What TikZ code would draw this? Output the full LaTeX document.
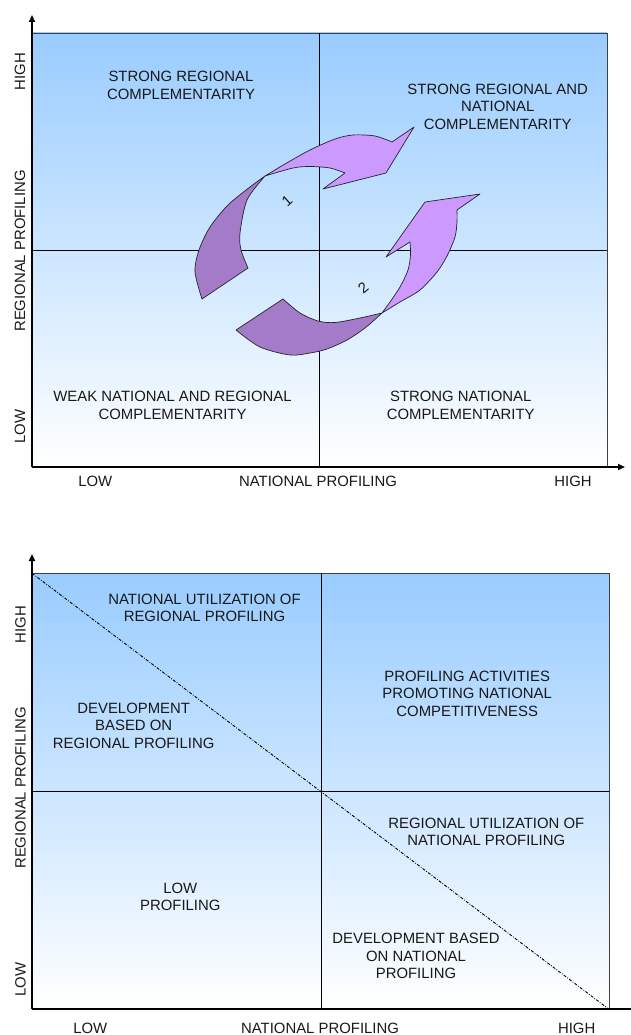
\documentclass[tikz,border=0pt]{standalone}
\usepackage{fontspec}
\setmainfont{Liberation Sans}
\usetikzlibrary{arrows.meta}
\definecolor{skytop}{RGB}{153,204,255}
\definecolor{ribbondark}{RGB}{163,123,200}
\definecolor{ribbonlight}{RGB}{204,153,255}
\definecolor{inktext}{RGB}{25,25,25}

\begin{document}
\begin{tikzpicture}[x=1pt, y=-1pt,
    lbl/.style={align=center, inner sep=0pt, text=inktext, font=\fontsize{14.9}{17.5}\selectfont},
    axis/.style={line width=1.8pt, -{Triangle[length=7pt,width=6pt]}},
    midline/.style={line width=0.9pt},
    frame/.style={draw=black!75, line width=0.8pt},
    ribbon/.style={draw=black!85, line width=0.7pt, line join=round},
    diag/.style={line width=0.9pt, dash pattern=on 3pt off 1.5pt on 0.8pt off 1.5pt}]
    \useasboundingbox (0,0) rectangle (631,1035);

    % upper chart
    \coordinate (tl1) at (32,33);
    \coordinate (br1) at (607,467);
    \coordinate (o1) at (32,467);
    \coordinate (ytip1) at (32,15);
    \coordinate (xtip1) at (625,467);
    \coordinate (mt1) at (319,33);
    \coordinate (mb1) at (319,467);
    \coordinate (ml1) at (32,250);
    \coordinate (mr1) at (607,250);
    \shade[top color=skytop, bottom color=white] (tl1) rectangle (br1);
    \draw[frame] (tl1) rectangle (br1);
    \draw[midline] (mt1) -- (mb1);
    \draw[midline] (ml1) -- (mr1);
    \draw[axis] (o1) -- (ytip1);
    \draw[axis] (o1) -- (xtip1);

    \node[lbl] (srq) at (181,85.5) {STRONG REGIONAL\\COMPLEMENTARITY};
    \node[lbl] (srnq) at (497.7,106.5) {STRONG REGIONAL AND\\NATIONAL\\COMPLEMENTARITY};
    \node[lbl] (wnrq) at (172.5,405.3) {WEAK NATIONAL AND REGIONAL\\COMPLEMENTARITY};
    \node[lbl] (snq) at (460.7,405.3) {STRONG NATIONAL\\COMPLEMENTARITY};
    \node[lbl, rotate=90] (hy1) at (20,71.7) {HIGH};
    \node[lbl, rotate=90] (ry1) at (20,251) {REGIONAL PROFILING};
    \node[lbl, rotate=90] (ly1) at (20,426.7) {LOW};
    \node[lbl] (lx1) at (95.3,481.7) {LOW};
    \node[lbl] (nx1) at (318,481.7) {NATIONAL PROFILING};
    \node[lbl] (hx1) at (573,481.7) {HIGH};

    % ribbon 1
    \filldraw[ribbon, fill=ribbondark] (202,299)
        -- plot[smooth] coordinates {(248,268) (241,250) (240,233) (247,200) (265,176)}
        -- plot[smooth] coordinates {(265,176) (250,187) (228,205) (210,227) (199,250) (195,272) (202,299)}
        -- cycle;
    \filldraw[ribbon, fill=ribbonlight]
        plot[smooth] coordinates {(265,176) (285,164) (310,150) (335,139) (353,135) (375,136) (392,142)}
        -- (414,127) -- (386,173) -- (323,189)
        -- plot[smooth] coordinates {(345,173) (330,168) (310,166.5) (293,168) (265,176)}
        -- cycle;
    % ribbon 2
    \filldraw[ribbon, fill=ribbondark] (236,330)
        -- plot[smooth] coordinates {(283,299) (300,313) (318,321) (335,322.5) (360,318) (382,313)}
        -- plot[smooth] coordinates {(382,313) (365,328) (347,340) (327,349) (310,353) (290,355) (260,347) (236,330)}
        -- cycle;
    \filldraw[ribbon, fill=ribbonlight]
        plot[smooth] coordinates {(382,313) (400,302) (420,290) (437,272) (447,256) (455,237) (457,222) (457,210)}
        -- (480,194) -- (425,202) -- (386,257)
        -- plot[smooth] coordinates {(410,242) (410.5,255) (408,270) (400,287) (390,302) (382,313)}
        -- cycle;
    \node[lbl, rotate=42] (one) at (287,201) {1};
    \node[lbl, rotate=40] (two) at (363.3,288.3) {2};

    % lower chart
    \coordinate (tl2) at (32,573.3);
    \coordinate (br2) at (609,1009.3);
    \coordinate (o2) at (32,1009.3);
    \coordinate (ytip2) at (32,554);
    \coordinate (xtip2) at (638,1009.3);
    \coordinate (mt2) at (321,573.3);
    \coordinate (mb2) at (321,1009.3);
    \coordinate (ml2) at (32,791);
    \coordinate (mr2) at (609,791);
    \shade[top color=skytop, bottom color=white] (tl2) rectangle (br2);
    \draw[frame] (tl2) rectangle (br2);
    \draw[midline] (mt2) -- (mb2);
    \draw[midline] (ml2) -- (mr2);
    \draw[diag] (tl2) -- (br2);
    \draw[axis] (o2) -- (ytip2);
    \draw[axis] (o2) -- (xtip2);

    \node[lbl] (nurp) at (204.5,608) {NATIONAL UTILIZATION OF\\REGIONAL PROFILING};
    \node[lbl] (dbrp) at (133.7,725.5) {DEVELOPMENT\\BASED ON\\REGIONAL PROFILING};
    \node[lbl] (pap) at (467.2,693.5) {PROFILING ACTIVITIES\\PROMOTING NATIONAL\\COMPETITIVENESS};
    \node[lbl] (lowp) at (180.3,896.7) {LOW\\PROFILING};
    \node[lbl] (runp) at (486.3,832) {REGIONAL UTILIZATION OF\\NATIONAL PROFILING};
    \node[lbl] (dbnp) at (416,956) {DEVELOPMENT BASED\\ON NATIONAL\\PROFILING};
    \node[lbl, rotate=90] (hy2) at (20.5,624.7) {HIGH};
    \node[lbl, rotate=90] (ry2) at (20.5,788) {REGIONAL PROFILING};
    \node[lbl, rotate=90] (ly2) at (20.5,979.7) {LOW};
    \node[lbl] (lx2) at (90.3,1028) {LOW};
    \node[lbl] (nx2) at (320,1028) {NATIONAL PROFILING};
    \node[lbl] (hx2) at (576.7,1028) {HIGH};
\end{tikzpicture}
\end{document}
